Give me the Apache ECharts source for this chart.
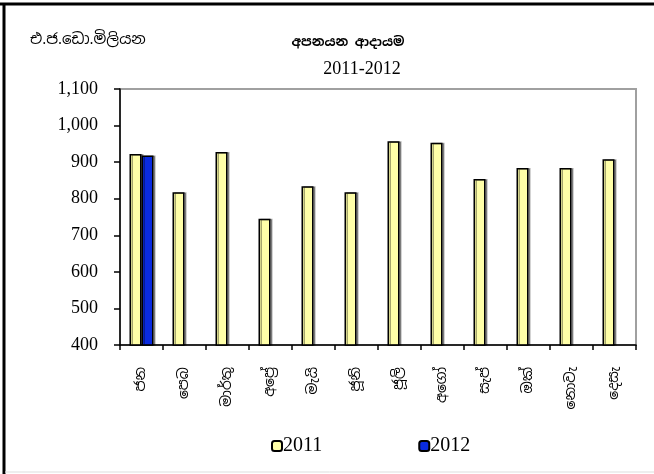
<!DOCTYPE html>
<html>
<head>
<meta charset="utf-8">
<script src="https://cdn.jsdelivr.net/npm/echarts@6/dist/echarts.min.js"></script>
<style>
html,body{margin:0;padding:0;background:#fff;}
#c{width:654px;height:474px;}
</style>
</head>
<body>
<div id="c"></div>
<script>
var months = ['ජන','පෙබ','මාර්තු','අප්‍රේ','මැයි','ජූනි','ජූලි','අගෝ','සැප්','ඔක්','නොවැ','දෙසැ'];
var values2011 = [922, 818, 928, 745, 834, 818, 957, 953, 854, 884, 884, 908];
var values2012 = [918, null, null, null, null, null, null, null, null, null, null, null];
var yTicks = [400, 500, 600, 700, 800, 900, 1000, 1100];

var serif = '"Liberation Serif", "Times New Roman", serif';
var sinhala = '"Noto Sans Sinhala", "Iskoola Pota", "Noto Sans", sans-serif';

var chart = echarts.init(document.getElementById('c'));
chart.setOption({
  animation: false,
  backgroundColor: '#fff',
  graphic: [
    { type: 'line', shape: { x1: 0, y1: 4, x2: 654, y2: 4 }, style: { stroke: '#000', lineWidth: 3 } },
    { type: 'line', shape: { x1: 4, y1: 3, x2: 4, y2: 474 }, style: { stroke: '#000', lineWidth: 3 } },
    { type: 'line', shape: { x1: 5, y1: 472, x2: 654, y2: 472 }, style: { stroke: '#ddd', lineWidth: 1 } },
    { type: 'text', left: 30, top: 32, style: { text: 'එ.ජ.ඩො.මිලියන', font: '15px ' + sinhala, fill: '#000' } }
  ],
  title: [
    { text: 'අපනයන ආදායම', left: 343, top: 31, textAlign: 'center',
      textStyle: { fontFamily: sinhala, fontSize: 13, fontWeight: 'bold', color: '#000' } },
    { text: '2011-2012', left: 357, top: 55, textAlign: 'center',
      textStyle: { fontFamily: serif, fontSize: 18, fontWeight: 'normal', color: '#000' } }
  ],
  legend: {
    data: ['2011', '2012'],
    left: 266, top: 431,
    itemGap: 96,
    itemWidth: 10, itemHeight: 10,
    textStyle: { fontFamily: serif, fontSize: 20, color: '#000', padding: [0, 0, 0, -4] }
  },
  grid: {
    left: 120, right: 18, top: 89, bottom: 129,
    show: true, borderColor: '#a0a0a0', borderWidth: 2, backgroundColor: 'transparent'
  },
  xAxis: {
    type: 'category',
    data: months,
    axisLine: { lineStyle: { color: '#000', width: 1.5 } },
    axisTick: { show: true, length: 5, lineStyle: { color: '#000', width: 1.5 } },
    axisLabel: { rotate: 90, margin: 22, fontFamily: sinhala, fontSize: 14, color: '#000' }
  },
  yAxis: {
    type: 'value',
    min: yTicks[0], max: yTicks[yTicks.length - 1], interval: 100,
    splitLine: { show: false },
    axisLine: { show: true, lineStyle: { color: '#000', width: 1.5 } },
    axisTick: { show: true, length: 6, lineStyle: { color: '#000', width: 1.5 } },
    axisLabel: {
      fontFamily: serif, fontSize: 18, color: '#000', margin: 22,
      formatter: function (v) { return v.toLocaleString('en-US'); }
    }
  },
  series: [
    { name: '2011', type: 'bar', data: values2011, barWidth: 12, barGap: '0%',
      itemStyle: { color: '#FFFFA8', borderColor: '#000', borderWidth: 1.5,
        shadowColor: 'rgba(0,0,0,0.35)', shadowOffsetX: 2, shadowOffsetY: 0 } },
    { name: '2012', type: 'bar', data: values2012, barWidth: 12, barGap: '0%',
      itemStyle: { color: '#0A2BE0', borderColor: '#000', borderWidth: 1.5,
        shadowColor: 'rgba(0,0,0,0.35)', shadowOffsetX: 2, shadowOffsetY: 0 } }
  ]
});
</script>
</body>
</html>
